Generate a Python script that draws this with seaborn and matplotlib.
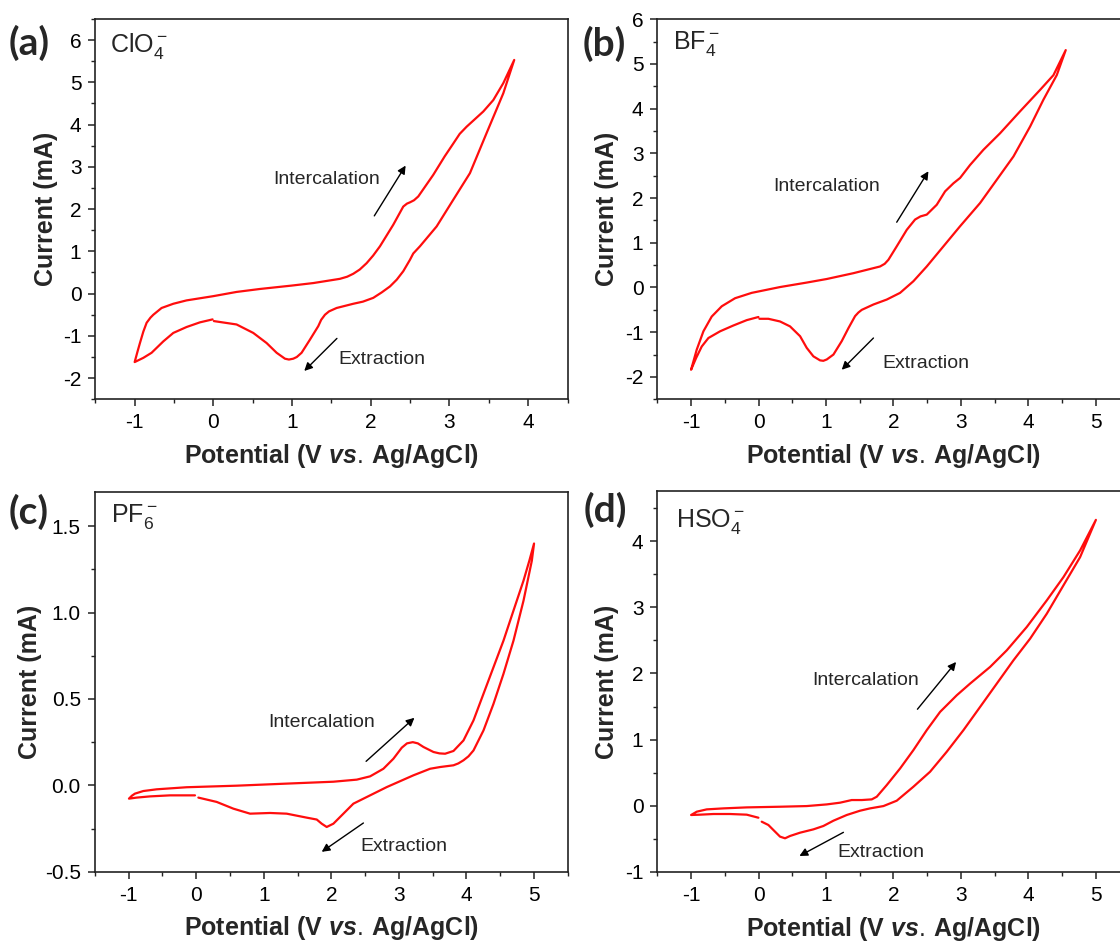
import numpy as np
import pandas as pd
import matplotlib
matplotlib.use("Agg")
import matplotlib.pyplot as plt
import seaborn as sns
from matplotlib.ticker import MultipleLocator

# ---------------- data ----------------
# (a) ClO4-
a_start_x = [-0.010, -0.171, -0.340, -0.509, -0.636, -0.785, -0.890, -1.000]
a_start_y = [-0.61, -0.68, -0.79, -0.93, -1.13, -1.40, -1.52, -1.62]
a_fwd_x = [-1.000, -0.965, -0.933, -0.890, -0.848, -0.800, -0.763, -0.658, -0.509, -0.340,
           -0.001, 0.295, 0.592, 0.994, 1.270, 1.608, 1.700, 1.778, 1.860, 1.947,
           2.030, 2.117, 2.286, 2.413, 2.460, 2.498, 2.550, 2.604, 2.794, 2.940,
           3.048, 3.130, 3.218, 3.330, 3.430, 3.557, 3.684, 3.823]
a_fwd_y = [-1.62, -1.38, -1.17, -0.90, -0.69, -0.57, -0.50, -0.34, -0.24, -0.16,
           -0.06, 0.04, 0.11, 0.19, 0.25, 0.35, 0.40, 0.47, 0.57, 0.72,
           0.90, 1.12, 1.63, 2.06, 2.13, 2.16, 2.21, 2.30, 2.81, 3.25,
           3.55, 3.78, 3.95, 4.14, 4.31, 4.58, 4.98, 5.53]
a_rev_x = [3.684, 3.472, 3.260, 3.048, 2.837, 2.625, 2.540, 2.498, 2.413, 2.330,
           2.244, 2.140, 2.032, 1.900, 1.778, 1.566, 1.470, 1.418, 1.370, 1.333,
           1.227, 1.121, 1.060, 1.015, 0.960, 0.910, 0.804, 0.677, 0.507, 0.295,
           0.007]
a_rev_y = [4.74, 3.80, 2.85, 2.22, 1.59, 1.12, 0.95, 0.80, 0.53, 0.33,
           0.17, 0.03, -0.10, -0.19, -0.24, -0.34, -0.42, -0.50, -0.62, -0.77,
           -1.09, -1.40, -1.50, -1.54, -1.56, -1.54, -1.40, -1.17, -0.93, -0.73,
           -0.65]

# (b) BF4-
b_start_x = [-0.002, -0.175, -0.373, -0.570, -0.743, -0.842, -0.926, -1.000]
b_start_y = [-0.66, -0.73, -0.85, -0.98, -1.13, -1.32, -1.58, -1.84]
b_fwd_x = [-1.000, -0.916, -0.817, -0.694, -0.545, -0.348, -0.101, 0.319, 0.714, 1.011,
           1.406, 1.801, 1.870, 1.925, 2.048, 2.197, 2.320, 2.400, 2.493, 2.641,
           2.765, 2.888, 2.987, 3.135, 3.333, 3.580, 3.876, 4.173, 4.371, 4.553]
b_fwd_y = [-1.84, -1.39, -0.98, -0.65, -0.42, -0.24, -0.12, 0.01, 0.11, 0.19,
           0.32, 0.47, 0.53, 0.62, 0.92, 1.29, 1.52, 1.59, 1.63, 1.85,
           2.15, 2.33, 2.45, 2.74, 3.08, 3.45, 3.94, 4.42, 4.75, 5.31]
b_rev_x = [4.420, 4.222, 4.025, 3.778, 3.531, 3.284, 2.987, 2.740, 2.493, 2.295,
           2.098, 1.900, 1.703, 1.530, 1.480, 1.431, 1.332, 1.233, 1.110, 1.011,
           0.960, 0.912, 0.813, 0.714, 0.616, 0.467, 0.319, 0.146, 0.013]
b_rev_y = [4.75, 4.20, 3.60, 2.93, 2.41, 1.89, 1.37, 0.92, 0.47, 0.14,
           -0.12, -0.27, -0.38, -0.50, -0.56, -0.64, -0.91, -1.20, -1.50, -1.61,
           -1.64, -1.63, -1.54, -1.35, -1.09, -0.87, -0.76, -0.70, -0.70]

# (c) PF6-
c_start_x = [-0.017, -0.387, -0.683, -0.880, -0.994]
c_start_y = [-0.058, -0.058, -0.064, -0.071, -0.077]
c_fwd_x = [-0.994, -0.950, -0.905, -0.782, -0.584, -0.140, 0.600, 1.340, 2.031, 2.377,
           2.574, 2.771, 2.919, 3.043, 3.120, 3.206, 3.280, 3.364, 3.512, 3.600,
           3.684, 3.808, 3.956, 4.104, 4.252, 4.400, 4.548, 4.696, 4.844, 4.930,
           5.000]
c_fwd_y = [-0.077, -0.060, -0.048, -0.033, -0.023, -0.011, -0.002, 0.010, 0.021, 0.033,
           0.052, 0.096, 0.154, 0.218, 0.243, 0.250, 0.243, 0.222, 0.193, 0.185,
           0.183, 0.199, 0.260, 0.376, 0.530, 0.684, 0.838, 1.012, 1.185, 1.300,
           1.400]
c_rev_x = [4.967, 4.844, 4.696, 4.548, 4.400, 4.252, 4.104, 4.030, 3.956, 3.880,
           3.808, 3.610, 3.462, 3.215, 2.821, 2.327, 2.031, 1.932, 1.858, 1.785,
           1.636, 1.340, 1.094, 0.798, 0.551, 0.304, 0.033]
c_rev_y = [1.300, 1.069, 0.838, 0.646, 0.472, 0.318, 0.202, 0.168, 0.145, 0.127,
           0.116, 0.106, 0.096, 0.058, -0.010, -0.106, -0.222, -0.241, -0.222, -0.198,
           -0.187, -0.164, -0.160, -0.164, -0.135, -0.096, -0.071]

# (d) HSO4-
d_start_x = [-0.002, -0.175, -0.422, -0.669, -0.867, -1.000]
d_start_y = [-0.180, -0.134, -0.124, -0.124, -0.134, -0.139]
d_fwd_x = [-1.000, -0.916, -0.768, -0.521, -0.175, 0.319, 0.714, 1.011, 1.208, 1.381,
           1.530, 1.678, 1.752, 1.900, 2.098, 2.295, 2.493, 2.691, 2.938, 3.135,
           3.432, 3.679, 3.975, 4.272, 4.519, 4.766, 5.000]
d_fwd_y = [-0.139, -0.089, -0.054, -0.039, -0.024, -0.014, -0.004, 0.021, 0.047, 0.087,
           0.087, 0.097, 0.137, 0.313, 0.564, 0.841, 1.143, 1.419, 1.670, 1.846,
           2.098, 2.349, 2.701, 3.103, 3.455, 3.858, 4.320]
d_rev_x = [4.766, 4.519, 4.272, 4.025, 3.778, 3.531, 3.284, 3.037, 2.789, 2.542,
           2.295, 2.048, 1.851, 1.653, 1.505, 1.307, 1.110, 0.961, 0.813, 0.616,
           0.467, 0.393, 0.319, 0.245, 0.146, 0.047]
d_rev_y = [3.757, 3.330, 2.902, 2.525, 2.198, 1.846, 1.494, 1.143, 0.816, 0.514,
           0.288, 0.077, -0.004, -0.039, -0.074, -0.139, -0.225, -0.305, -0.356, -0.406,
           -0.456, -0.491, -0.466, -0.391, -0.290, -0.240]

panel_letters = ["(a)", "(b)", "(c)", "(d)"]
ion_labels = ["ClO$_4^-$", "BF$_4^-$", "PF$_6^-$", "HSO$_4^-$"]
xlabel = "Potential (V $\\it{vs.}\\,$Ag/AgCl)"
ylabel = "Current (mA)"

# ---------------- style ----------------
sns.set_theme(style="ticks")
plt.rcParams.update({
    "font.family": ["Liberation Sans", "DejaVu Sans"],
    "mathtext.fontset": "custom",
    "mathtext.rm": "Liberation Sans",
    "mathtext.it": "Liberation Sans:bold:italic",
    "mathtext.bf": "Liberation Sans:bold",
    "axes.unicode_minus": False,
    "axes.edgecolor": "#222222",
    "axes.linewidth": 1.2,
    "xtick.color": "#222222",
    "ytick.color": "#222222",
    "xtick.labelcolor": "black",
    "ytick.labelcolor": "black",
})

fig = plt.figure(figsize=(11.2, 9.43), dpi=100)

layout = [
    dict(rect=[0.0851, 0.5766, 0.4216, 0.4033], xlim=(-1.5, 4.5), ylim=(-2.5, 6.5),
         ymaj=1, ymin=0.5, yfmt="{:.0f}", ylab_x=-0.080,
         letter_xy=(0.008, 0.955), ion_xy=(0.031, 0.929),
         inter_xy=(0.76, 2.69), inter_arrow=((2.045, 1.84), (2.443, 3.03)),
         extr_xy=(1.59, -1.56), extr_arrow=((1.570, -1.06), (1.155, -1.83))),
    dict(rect=[0.5869, 0.5766, 0.4217, 0.4030], xlim=(-1.5, 5.5), ylim=(-2.5, 6.0),
         ymaj=1, ymin=0.5, yfmt="{:.0f}", ylab_x=-0.082,
         letter_xy=(0.520, 0.953), ion_xy=(0.034, 0.937),
         inter_xy=(0.22, 2.26), inter_arrow=((2.048, 1.46), (2.518, 2.60)),
         extr_xy=(1.83, -1.69), extr_arrow=((1.703, -1.13), (1.233, -1.84))),
    dict(rect=[0.0846, 0.0756, 0.4224, 0.4030], xlim=(-1.5, 5.5), ylim=(-0.5, 1.7),
         ymaj=0.5, ymin=0.25, yfmt="{:.1f}", ylab_x=-0.112,
         letter_xy=(0.008, 0.457), ion_xy=(0.034, 0.934),
         inter_xy=(1.07, 0.362), inter_arrow=((2.515, 0.139), (3.230, 0.391)),
         extr_xy=(2.43, -0.356), extr_arrow=((2.475, -0.218), (1.858, -0.385))),
    dict(rect=[0.5869, 0.0753, 0.4217, 0.4036], xlim=(-1.5, 5.5), ylim=(-1.0, 4.75),
         ymaj=1, ymin=0.5, yfmt="{:.0f}", ylab_x=-0.082,
         letter_xy=(0.521, 0.459), ion_xy=(0.040, 0.920),
         inter_xy=(0.80, 1.887), inter_arrow=((2.355, 1.459), (2.928, 2.173)),
         extr_xy=(1.17, -0.703), extr_arrow=((1.258, -0.401), (0.606, -0.758))),
]

curves = [
    (a_start_x + a_fwd_x + a_rev_x, a_start_y + a_fwd_y + a_rev_y),
    (b_start_x + b_fwd_x + b_rev_x, b_start_y + b_fwd_y + b_rev_y),
    (c_start_x + c_fwd_x + c_rev_x, c_start_y + c_fwd_y + c_rev_y),
    (d_start_x + d_fwd_x + d_rev_x, d_start_y + d_fwd_y + d_rev_y),
]

for i, (lay, (cx, cy)) in enumerate(zip(layout, curves)):
    ax = fig.add_axes(lay["rect"])
    df = pd.DataFrame({"E": cx, "I": cy})
    sns.lineplot(data=df, x="E", y="I", sort=False, estimator=None, ax=ax,
                 color="#ff0d0d", linewidth=1.6, solid_joinstyle="round")
    ax.set_xlim(*lay["xlim"])
    ax.set_ylim(*lay["ylim"])
    xt = [t for t in np.arange(-1, lay["xlim"][1] + 0.01, 1)]
    ax.set_xticks(xt)
    ax.set_xticklabels([f"{t:.0f}" for t in xt])
    ax.xaxis.set_minor_locator(MultipleLocator(0.5))
    ax.yaxis.set_major_locator(MultipleLocator(lay["ymaj"]))
    ax.yaxis.set_minor_locator(MultipleLocator(lay["ymin"]))
    yt = [t for t in ax.get_yticks() if lay["ylim"][0] - 1e-9 <= t <= lay["ylim"][1] + 1e-9]
    ax.set_yticks(yt)
    ax.set_yticklabels([lay["yfmt"].format(t + 0.0) for t in yt])
    ax.tick_params(which="major", direction="out", length=5, width=1.1, labelsize=15, pad=5)
    ax.tick_params(which="minor", direction="out", length=3, width=1.0)
    ax.set_xlabel(xlabel, fontsize=18, fontweight="bold")
    ax.set_ylabel(ylabel, fontsize=18, fontweight="bold")
    ax.xaxis.set_label_coords(0.5, -0.112)
    ax.yaxis.set_label_coords(lay["ylab_x"], 0.5)
    ax.xaxis.label.set_va("top")

    ax.text(lay["ion_xy"][0], lay["ion_xy"][1], ion_labels[i], transform=ax.transAxes,
            fontsize=18, ha="left", va="center")
    ax.text(lay["inter_xy"][0], lay["inter_xy"][1], "Intercalation", fontsize=14,
            ha="left", va="center")
    ax.text(lay["extr_xy"][0], lay["extr_xy"][1], "Extraction", fontsize=14,
            ha="left", va="center")
    for (p0, p1) in [lay["inter_arrow"], lay["extr_arrow"]]:
        ax.annotate("", xy=p1, xytext=p0,
                    arrowprops=dict(arrowstyle="-|>", color="black", lw=1.0,
                                    mutation_scale=12, shrinkA=0, shrinkB=0))
    fig.text(lay["letter_xy"][0], lay["letter_xy"][1], panel_letters[i],
             fontsize=28, fontweight="bold", family=["Lato", "DejaVu Sans"],
             ha="left", va="center")

fig.savefig("out.png", dpi=100)
